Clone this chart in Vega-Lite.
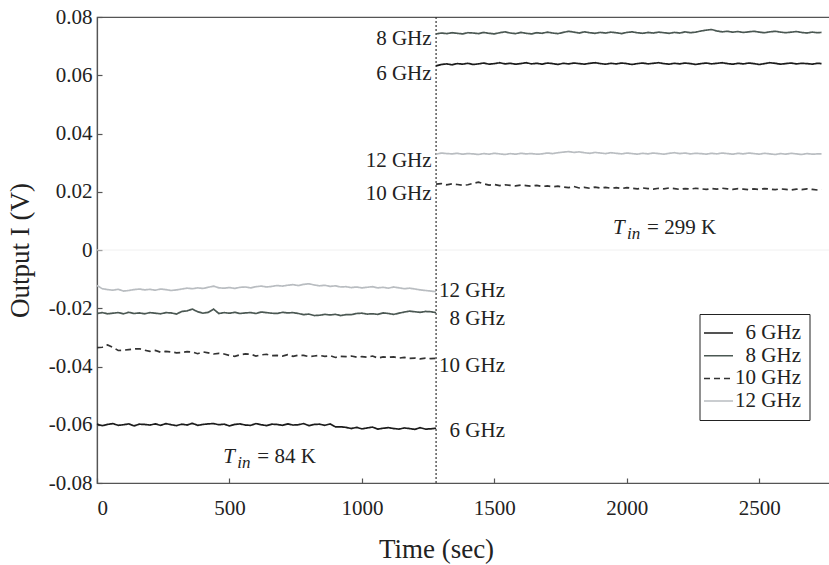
{
  "$schema": "https://vega.github.io/schema/vega-lite/v6.json",
  "width": 733,
  "height": 466,
  "autosize": {"type": "none"},
  "padding": {"left": 97, "top": 17, "right": 0, "bottom": 82},
  "background": "white",
  "config": {
    "view": {"stroke": "#555", "strokeWidth": 1.2},
    "font": "Liberation Serif",
    "axis": {
      "labelFont": "Liberation Serif", "titleFont": "Liberation Serif",
      "labelFontSize": 21, "titleFontSize": 27, "titleFontWeight": "normal",
      "labelColor": "#222", "titleColor": "#222",
      "domainColor": "#555", "tickColor": "#555", "domainWidth": 1.2, "tickWidth": 1.2,
      "grid": false, "tickSize": -5
    },
    "legend": {
      "orient": "none", "legendX": 602.5, "legendY": 297,
      "strokeColor": "#222", "padding": 8, "rowPadding": 1.7,
      "symbolType": "M-1.45,0H1.45", "symbolSize": 400, "symbolStrokeWidth": 1.5,
      "labelFont": "Liberation Serif", "labelFontSize": 21, "labelColor": "#222",
      "labelAlign": "right", "labelOffset": 71.5, "fillColor": "white"
    }
  },
  "datasets": {
    "series": [
      {"t":0,"s":"L","6 GHz":-0.0598,"8 GHz":-0.0218,"10 GHz":-0.0335,"12 GHz":-0.0122},
      {"t":20,"s":"L","6 GHz":-0.0603,"8 GHz":-0.0215,"10 GHz":-0.0334,"12 GHz":-0.0133},
      {"t":40,"s":"L","6 GHz":-0.0599,"8 GHz":-0.0219,"10 GHz":-0.0326,"12 GHz":-0.0136},
      {"t":60,"s":"L","6 GHz":-0.0596,"8 GHz":-0.0217,"10 GHz":-0.0334,"12 GHz":-0.0138},
      {"t":80,"s":"L","6 GHz":-0.0602,"8 GHz":-0.0215,"10 GHz":-0.0345,"12 GHz":-0.0135},
      {"t":100,"s":"L","6 GHz":-0.0600,"8 GHz":-0.0219,"10 GHz":-0.0344,"12 GHz":-0.0141},
      {"t":120,"s":"L","6 GHz":-0.0597,"8 GHz":-0.0214,"10 GHz":-0.0342,"12 GHz":-0.0139},
      {"t":140,"s":"L","6 GHz":-0.0604,"8 GHz":-0.0218,"10 GHz":-0.0340,"12 GHz":-0.0136},
      {"t":160,"s":"L","6 GHz":-0.0598,"8 GHz":-0.0216,"10 GHz":-0.0339,"12 GHz":-0.0134},
      {"t":180,"s":"L","6 GHz":-0.0599,"8 GHz":-0.0219,"10 GHz":-0.0344,"12 GHz":-0.0137},
      {"t":200,"s":"L","6 GHz":-0.0601,"8 GHz":-0.0215,"10 GHz":-0.0348,"12 GHz":-0.0135},
      {"t":220,"s":"L","6 GHz":-0.0597,"8 GHz":-0.0217,"10 GHz":-0.0345,"12 GHz":-0.0138},
      {"t":240,"s":"L","6 GHz":-0.0602,"8 GHz":-0.0219,"10 GHz":-0.0351,"12 GHz":-0.0134},
      {"t":260,"s":"L","6 GHz":-0.0596,"8 GHz":-0.0215,"10 GHz":-0.0348,"12 GHz":-0.0136},
      {"t":280,"s":"L","6 GHz":-0.0600,"8 GHz":-0.0216,"10 GHz":-0.0350,"12 GHz":-0.0139},
      {"t":300,"s":"L","6 GHz":-0.0603,"8 GHz":-0.0220,"10 GHz":-0.0353,"12 GHz":-0.0137},
      {"t":320,"s":"L","6 GHz":-0.0598,"8 GHz":-0.0211,"10 GHz":-0.0352,"12 GHz":-0.0134},
      {"t":340,"s":"L","6 GHz":-0.0601,"8 GHz":-0.0209,"10 GHz":-0.0349,"12 GHz":-0.0131},
      {"t":360,"s":"L","6 GHz":-0.0595,"8 GHz":-0.0203,"10 GHz":-0.0350,"12 GHz":-0.0133},
      {"t":380,"s":"L","6 GHz":-0.0602,"8 GHz":-0.0212,"10 GHz":-0.0356,"12 GHz":-0.0130},
      {"t":400,"s":"L","6 GHz":-0.0599,"8 GHz":-0.0217,"10 GHz":-0.0350,"12 GHz":-0.0132},
      {"t":420,"s":"L","6 GHz":-0.0597,"8 GHz":-0.0214,"10 GHz":-0.0353,"12 GHz":-0.0128},
      {"t":440,"s":"L","6 GHz":-0.0596,"8 GHz":-0.0203,"10 GHz":-0.0357,"12 GHz":-0.0124},
      {"t":460,"s":"L","6 GHz":-0.0600,"8 GHz":-0.0218,"10 GHz":-0.0355,"12 GHz":-0.0130},
      {"t":480,"s":"L","6 GHz":-0.0598,"8 GHz":-0.0215,"10 GHz":-0.0357,"12 GHz":-0.0131},
      {"t":500,"s":"L","6 GHz":-0.0604,"8 GHz":-0.0217,"10 GHz":-0.0362,"12 GHz":-0.0129},
      {"t":520,"s":"L","6 GHz":-0.0599,"8 GHz":-0.0214,"10 GHz":-0.0365,"12 GHz":-0.0132},
      {"t":540,"s":"L","6 GHz":-0.0597,"8 GHz":-0.0218,"10 GHz":-0.0360,"12 GHz":-0.0128},
      {"t":560,"s":"L","6 GHz":-0.0601,"8 GHz":-0.0216,"10 GHz":-0.0357,"12 GHz":-0.0127},
      {"t":580,"s":"L","6 GHz":-0.0602,"8 GHz":-0.0215,"10 GHz":-0.0358,"12 GHz":-0.0130},
      {"t":600,"s":"L","6 GHz":-0.0596,"8 GHz":-0.0218,"10 GHz":-0.0364,"12 GHz":-0.0126},
      {"t":620,"s":"L","6 GHz":-0.0600,"8 GHz":-0.0213,"10 GHz":-0.0360,"12 GHz":-0.0124},
      {"t":640,"s":"L","6 GHz":-0.0603,"8 GHz":-0.0215,"10 GHz":-0.0358,"12 GHz":-0.0127},
      {"t":660,"s":"L","6 GHz":-0.0598,"8 GHz":-0.0217,"10 GHz":-0.0363,"12 GHz":-0.0125},
      {"t":680,"s":"L","6 GHz":-0.0599,"8 GHz":-0.0218,"10 GHz":-0.0362,"12 GHz":-0.0122},
      {"t":700,"s":"L","6 GHz":-0.0602,"8 GHz":-0.0214,"10 GHz":-0.0364,"12 GHz":-0.0124},
      {"t":720,"s":"L","6 GHz":-0.0597,"8 GHz":-0.0216,"10 GHz":-0.0359,"12 GHz":-0.0121},
      {"t":740,"s":"L","6 GHz":-0.0601,"8 GHz":-0.0215,"10 GHz":-0.0365,"12 GHz":-0.0119},
      {"t":760,"s":"L","6 GHz":-0.0600,"8 GHz":-0.0218,"10 GHz":-0.0361,"12 GHz":-0.0122},
      {"t":780,"s":"L","6 GHz":-0.0596,"8 GHz":-0.0222,"10 GHz":-0.0362,"12 GHz":-0.0118},
      {"t":800,"s":"L","6 GHz":-0.0603,"8 GHz":-0.0220,"10 GHz":-0.0366,"12 GHz":-0.0116},
      {"t":820,"s":"L","6 GHz":-0.0599,"8 GHz":-0.0225,"10 GHz":-0.0364,"12 GHz":-0.0120},
      {"t":840,"s":"L","6 GHz":-0.0598,"8 GHz":-0.0224,"10 GHz":-0.0362,"12 GHz":-0.0123},
      {"t":860,"s":"L","6 GHz":-0.0602,"8 GHz":-0.0221,"10 GHz":-0.0365,"12 GHz":-0.0121},
      {"t":880,"s":"L","6 GHz":-0.0597,"8 GHz":-0.0223,"10 GHz":-0.0363,"12 GHz":-0.0125},
      {"t":900,"s":"L","6 GHz":-0.0607,"8 GHz":-0.0221,"10 GHz":-0.0369,"12 GHz":-0.0123},
      {"t":920,"s":"L","6 GHz":-0.0607,"8 GHz":-0.0225,"10 GHz":-0.0365,"12 GHz":-0.0127},
      {"t":940,"s":"L","6 GHz":-0.0609,"8 GHz":-0.0222,"10 GHz":-0.0366,"12 GHz":-0.0126},
      {"t":960,"s":"L","6 GHz":-0.0613,"8 GHz":-0.0222,"10 GHz":-0.0364,"12 GHz":-0.0129},
      {"t":980,"s":"L","6 GHz":-0.0609,"8 GHz":-0.0218,"10 GHz":-0.0368,"12 GHz":-0.0127},
      {"t":1000,"s":"L","6 GHz":-0.0614,"8 GHz":-0.0217,"10 GHz":-0.0366,"12 GHz":-0.0130},
      {"t":1020,"s":"L","6 GHz":-0.0611,"8 GHz":-0.0220,"10 GHz":-0.0368,"12 GHz":-0.0128},
      {"t":1040,"s":"L","6 GHz":-0.0608,"8 GHz":-0.0219,"10 GHz":-0.0364,"12 GHz":-0.0126},
      {"t":1060,"s":"L","6 GHz":-0.0615,"8 GHz":-0.0221,"10 GHz":-0.0371,"12 GHz":-0.0130},
      {"t":1080,"s":"L","6 GHz":-0.0612,"8 GHz":-0.0216,"10 GHz":-0.0367,"12 GHz":-0.0128},
      {"t":1100,"s":"L","6 GHz":-0.0610,"8 GHz":-0.0218,"10 GHz":-0.0368,"12 GHz":-0.0131},
      {"t":1120,"s":"L","6 GHz":-0.0613,"8 GHz":-0.0221,"10 GHz":-0.0367,"12 GHz":-0.0127},
      {"t":1140,"s":"L","6 GHz":-0.0615,"8 GHz":-0.0217,"10 GHz":-0.0371,"12 GHz":-0.0130},
      {"t":1160,"s":"L","6 GHz":-0.0611,"8 GHz":-0.0213,"10 GHz":-0.0369,"12 GHz":-0.0133},
      {"t":1180,"s":"L","6 GHz":-0.0613,"8 GHz":-0.0210,"10 GHz":-0.0372,"12 GHz":-0.0131},
      {"t":1200,"s":"L","6 GHz":-0.0616,"8 GHz":-0.0212,"10 GHz":-0.0371,"12 GHz":-0.0134},
      {"t":1220,"s":"L","6 GHz":-0.0610,"8 GHz":-0.0214,"10 GHz":-0.0374,"12 GHz":-0.0137},
      {"t":1240,"s":"L","6 GHz":-0.0615,"8 GHz":-0.0211,"10 GHz":-0.0371,"12 GHz":-0.0139},
      {"t":1260,"s":"L","6 GHz":-0.0614,"8 GHz":-0.0212,"10 GHz":-0.0373,"12 GHz":-0.0141},
      {"t":1280,"s":"L","6 GHz":-0.0612,"8 GHz":-0.0215,"10 GHz":-0.0372,"12 GHz":-0.0143},
      {"t":1280,"s":"R","6 GHz":0.0632,"8 GHz":0.0742,"10 GHz":0.0226,"12 GHz":0.0329},
      {"t":1300,"s":"R","6 GHz":0.0637,"8 GHz":0.0745,"10 GHz":0.0228,"12 GHz":0.0333},
      {"t":1320,"s":"R","6 GHz":0.0639,"8 GHz":0.0743,"10 GHz":0.0224,"12 GHz":0.0331},
      {"t":1340,"s":"R","6 GHz":0.0636,"8 GHz":0.0746,"10 GHz":0.0227,"12 GHz":0.0330},
      {"t":1360,"s":"R","6 GHz":0.0640,"8 GHz":0.0744,"10 GHz":0.0225,"12 GHz":0.0332},
      {"t":1380,"s":"R","6 GHz":0.0638,"8 GHz":0.0742,"10 GHz":0.0222,"12 GHz":0.0329},
      {"t":1400,"s":"R","6 GHz":0.0641,"8 GHz":0.0746,"10 GHz":0.0224,"12 GHz":0.0331},
      {"t":1420,"s":"R","6 GHz":0.0637,"8 GHz":0.0745,"10 GHz":0.0229,"12 GHz":0.0330},
      {"t":1440,"s":"R","6 GHz":0.0639,"8 GHz":0.0743,"10 GHz":0.0233,"12 GHz":0.0328},
      {"t":1460,"s":"R","6 GHz":0.0642,"8 GHz":0.0747,"10 GHz":0.0227,"12 GHz":0.0331},
      {"t":1480,"s":"R","6 GHz":0.0638,"8 GHz":0.0744,"10 GHz":0.0223,"12 GHz":0.0329},
      {"t":1500,"s":"R","6 GHz":0.0640,"8 GHz":0.0742,"10 GHz":0.0225,"12 GHz":0.0332},
      {"t":1520,"s":"R","6 GHz":0.0643,"8 GHz":0.0746,"10 GHz":0.0221,"12 GHz":0.0330},
      {"t":1540,"s":"R","6 GHz":0.0639,"8 GHz":0.0749,"10 GHz":0.0224,"12 GHz":0.0328},
      {"t":1560,"s":"R","6 GHz":0.0641,"8 GHz":0.0745,"10 GHz":0.0222,"12 GHz":0.0331},
      {"t":1580,"s":"R","6 GHz":0.0638,"8 GHz":0.0743,"10 GHz":0.0220,"12 GHz":0.0329},
      {"t":1600,"s":"R","6 GHz":0.0640,"8 GHz":0.0747,"10 GHz":0.0223,"12 GHz":0.0332},
      {"t":1620,"s":"R","6 GHz":0.0643,"8 GHz":0.0744,"10 GHz":0.0221,"12 GHz":0.0330},
      {"t":1640,"s":"R","6 GHz":0.0639,"8 GHz":0.0742,"10 GHz":0.0219,"12 GHz":0.0331},
      {"t":1660,"s":"R","6 GHz":0.0641,"8 GHz":0.0746,"10 GHz":0.0222,"12 GHz":0.0329},
      {"t":1680,"s":"R","6 GHz":0.0638,"8 GHz":0.0744,"10 GHz":0.0218,"12 GHz":0.0330},
      {"t":1700,"s":"R","6 GHz":0.0642,"8 GHz":0.0748,"10 GHz":0.0220,"12 GHz":0.0333},
      {"t":1720,"s":"R","6 GHz":0.0640,"8 GHz":0.0745,"10 GHz":0.0217,"12 GHz":0.0331},
      {"t":1740,"s":"R","6 GHz":0.0637,"8 GHz":0.0743,"10 GHz":0.0219,"12 GHz":0.0334},
      {"t":1760,"s":"R","6 GHz":0.0641,"8 GHz":0.0747,"10 GHz":0.0216,"12 GHz":0.0336},
      {"t":1780,"s":"R","6 GHz":0.0639,"8 GHz":0.0751,"10 GHz":0.0214,"12 GHz":0.0338},
      {"t":1800,"s":"R","6 GHz":0.0642,"8 GHz":0.0748,"10 GHz":0.0218,"12 GHz":0.0335},
      {"t":1820,"s":"R","6 GHz":0.0640,"8 GHz":0.0745,"10 GHz":0.0213,"12 GHz":0.0337},
      {"t":1840,"s":"R","6 GHz":0.0638,"8 GHz":0.0749,"10 GHz":0.0215,"12 GHz":0.0334},
      {"t":1860,"s":"R","6 GHz":0.0641,"8 GHz":0.0746,"10 GHz":0.0212,"12 GHz":0.0332},
      {"t":1880,"s":"R","6 GHz":0.0643,"8 GHz":0.0744,"10 GHz":0.0216,"12 GHz":0.0335},
      {"t":1900,"s":"R","6 GHz":0.0640,"8 GHz":0.0747,"10 GHz":0.0213,"12 GHz":0.0333},
      {"t":1920,"s":"R","6 GHz":0.0638,"8 GHz":0.0745,"10 GHz":0.0215,"12 GHz":0.0331},
      {"t":1940,"s":"R","6 GHz":0.0641,"8 GHz":0.0748,"10 GHz":0.0212,"12 GHz":0.0334},
      {"t":1960,"s":"R","6 GHz":0.0639,"8 GHz":0.0746,"10 GHz":0.0214,"12 GHz":0.0332},
      {"t":1980,"s":"R","6 GHz":0.0642,"8 GHz":0.0743,"10 GHz":0.0211,"12 GHz":0.0330},
      {"t":2000,"s":"R","6 GHz":0.0640,"8 GHz":0.0747,"10 GHz":0.0214,"12 GHz":0.0333},
      {"t":2020,"s":"R","6 GHz":0.0637,"8 GHz":0.0749,"10 GHz":0.0212,"12 GHz":0.0331},
      {"t":2040,"s":"R","6 GHz":0.0640,"8 GHz":0.0746,"10 GHz":0.0210,"12 GHz":0.0329},
      {"t":2060,"s":"R","6 GHz":0.0642,"8 GHz":0.0744,"10 GHz":0.0213,"12 GHz":0.0332},
      {"t":2080,"s":"R","6 GHz":0.0639,"8 GHz":0.0747,"10 GHz":0.0211,"12 GHz":0.0330},
      {"t":2100,"s":"R","6 GHz":0.0641,"8 GHz":0.0745,"10 GHz":0.0209,"12 GHz":0.0333},
      {"t":2120,"s":"R","6 GHz":0.0643,"8 GHz":0.0748,"10 GHz":0.0212,"12 GHz":0.0331},
      {"t":2140,"s":"R","6 GHz":0.0640,"8 GHz":0.0746,"10 GHz":0.0210,"12 GHz":0.0329},
      {"t":2160,"s":"R","6 GHz":0.0638,"8 GHz":0.0744,"10 GHz":0.0213,"12 GHz":0.0332},
      {"t":2180,"s":"R","6 GHz":0.0641,"8 GHz":0.0747,"10 GHz":0.0211,"12 GHz":0.0334},
      {"t":2200,"s":"R","6 GHz":0.0639,"8 GHz":0.0745,"10 GHz":0.0208,"12 GHz":0.0331},
      {"t":2220,"s":"R","6 GHz":0.0642,"8 GHz":0.0749,"10 GHz":0.0211,"12 GHz":0.0333},
      {"t":2240,"s":"R","6 GHz":0.0640,"8 GHz":0.0746,"10 GHz":0.0209,"12 GHz":0.0330},
      {"t":2260,"s":"R","6 GHz":0.0637,"8 GHz":0.0748,"10 GHz":0.0212,"12 GHz":0.0332},
      {"t":2280,"s":"R","6 GHz":0.0640,"8 GHz":0.0752,"10 GHz":0.0210,"12 GHz":0.0331},
      {"t":2300,"s":"R","6 GHz":0.0642,"8 GHz":0.0755,"10 GHz":0.0208,"12 GHz":0.0329},
      {"t":2320,"s":"R","6 GHz":0.0639,"8 GHz":0.0757,"10 GHz":0.0211,"12 GHz":0.0332},
      {"t":2340,"s":"R","6 GHz":0.0641,"8 GHz":0.0752,"10 GHz":0.0209,"12 GHz":0.0330},
      {"t":2360,"s":"R","6 GHz":0.0643,"8 GHz":0.0749,"10 GHz":0.0212,"12 GHz":0.0333},
      {"t":2380,"s":"R","6 GHz":0.0640,"8 GHz":0.0751,"10 GHz":0.0210,"12 GHz":0.0331},
      {"t":2400,"s":"R","6 GHz":0.0638,"8 GHz":0.0748,"10 GHz":0.0208,"12 GHz":0.0329},
      {"t":2420,"s":"R","6 GHz":0.0641,"8 GHz":0.0750,"10 GHz":0.0211,"12 GHz":0.0332},
      {"t":2440,"s":"R","6 GHz":0.0639,"8 GHz":0.0747,"10 GHz":0.0209,"12 GHz":0.0330},
      {"t":2460,"s":"R","6 GHz":0.0642,"8 GHz":0.0749,"10 GHz":0.0207,"12 GHz":0.0333},
      {"t":2480,"s":"R","6 GHz":0.0640,"8 GHz":0.0751,"10 GHz":0.0210,"12 GHz":0.0331},
      {"t":2500,"s":"R","6 GHz":0.0637,"8 GHz":0.0748,"10 GHz":0.0208,"12 GHz":0.0329},
      {"t":2520,"s":"R","6 GHz":0.0640,"8 GHz":0.0746,"10 GHz":0.0211,"12 GHz":0.0332},
      {"t":2540,"s":"R","6 GHz":0.0643,"8 GHz":0.0749,"10 GHz":0.0209,"12 GHz":0.0330},
      {"t":2560,"s":"R","6 GHz":0.0641,"8 GHz":0.0751,"10 GHz":0.0207,"12 GHz":0.0328},
      {"t":2580,"s":"R","6 GHz":0.0638,"8 GHz":0.0748,"10 GHz":0.0210,"12 GHz":0.0331},
      {"t":2600,"s":"R","6 GHz":0.0640,"8 GHz":0.0746,"10 GHz":0.0208,"12 GHz":0.0329},
      {"t":2620,"s":"R","6 GHz":0.0642,"8 GHz":0.0748,"10 GHz":0.0206,"12 GHz":0.0332},
      {"t":2640,"s":"R","6 GHz":0.0639,"8 GHz":0.0750,"10 GHz":0.0209,"12 GHz":0.0330},
      {"t":2660,"s":"R","6 GHz":0.0641,"8 GHz":0.0747,"10 GHz":0.0207,"12 GHz":0.0328},
      {"t":2680,"s":"R","6 GHz":0.0640,"8 GHz":0.0745,"10 GHz":0.0210,"12 GHz":0.0331},
      {"t":2700,"s":"R","6 GHz":0.0638,"8 GHz":0.0748,"10 GHz":0.0208,"12 GHz":0.0329},
      {"t":2720,"s":"R","6 GHz":0.0641,"8 GHz":0.0746,"10 GHz":0.0206,"12 GHz":0.0330},
      {"t":2735,"s":"R","6 GHz":0.0640,"8 GHz":0.0747,"10 GHz":0.0208,"12 GHz":0.0330}
    ],
    "labels": [
      {"x": 1263, "y": 0.0703, "label": "8 GHz"},
      {"x": 1263, "y": 0.0583, "label": "6 GHz"},
      {"x": 1263, "y": 0.0285, "label": "12 GHz"},
      {"x": 1263, "y": 0.0172, "label": "10 GHz"},
      {"x": 1540, "y": -0.0161, "label": "12 GHz"},
      {"x": 1540, "y": -0.0257, "label": "8 GHz"},
      {"x": 1540, "y": -0.0418, "label": "10 GHz"},
      {"x": 1540, "y": -0.0641, "label": "6 GHz"}
    ],
    "ann": [
      {"x": 477, "y": -0.0730, "label": "= 84 K"},
      {"x": 1948, "y": 0.0054, "label": "= 299 K"}
    ]
  },
  "layer": [
    {
      "data": {"values": [{"v": 0}]},
      "mark": {"type": "rule", "color": "#f0f0f0", "strokeWidth": 1},
      "encoding": {"y": {"field": "v", "type": "quantitative", "scale": {"domain": [-0.08, 0.08]}}}
    },
    {
      "data": {"values": [{"t": 1280}]},
      "mark": {"type": "rule", "color": "#333", "strokeWidth": 1.2, "strokeDash": [2, 2]},
      "encoding": {"x": {"field": "t", "type": "quantitative"}}
    },
    {
      "data": {"name": "series"},
      "transform": [{"fold": ["6 GHz", "8 GHz", "10 GHz", "12 GHz"], "as": ["f", "v"]}],
      "mark": {"type": "line", "strokeWidth": 1.7, "interpolate": "linear"},
      "encoding": {
        "x": {
          "field": "t", "type": "quantitative",
          "scale": {"domain": [0, 2767], "nice": false, "zero": false},
          "axis": {"title": "Time (sec)", "format": "d", "values": [0, 500, 1000, 1500, 2000, 2500], "labelPadding": 19, "titleX": 339, "titleY": 74, "titleBaseline": "alphabetic", "titleAnchor": "start", "titleAlign": "center"}
        },
        "y": {
          "field": "v", "type": "quantitative",
          "scale": {"domain": [-0.08, 0.08], "nice": false},
          "axis": {
            "title": "Output I (V)",
            "values": [-0.08, -0.06, -0.04, -0.02, 0, 0.02, 0.04, 0.06, 0.08],
            "labelExpr": "abs(datum.value) < 1e-9 ? '0' : replace(format(datum.value, '.2f'), '−', '-')",
            "labelPadding": 10, "titlePadding": 14
          }
        },
        "color": {
          "field": "f", "type": "nominal", "title": null,
          "scale": {"domain": ["6 GHz", "8 GHz", "10 GHz", "12 GHz"], "range": ["#1c1c1c", "#4b5853", "#333333", "#b9bdc1"]}
        },
        "strokeDash": {
          "field": "f", "type": "nominal", "title": null,
          "scale": {"domain": ["6 GHz", "8 GHz", "10 GHz", "12 GHz"], "range": [[1, 0], [1, 0], [6, 4], [1, 0]]}
        },
        "detail": {"field": "s", "type": "nominal"}
      }
    },
    {
      "data": {"name": "labels"},
      "mark": {"type": "text", "align": "right", "baseline": "alphabetic", "fontSize": 21, "font": "Liberation Serif", "color": "#222"},
      "encoding": {
        "x": {"field": "x", "type": "quantitative"},
        "y": {"field": "y", "type": "quantitative"},
        "text": {"field": "label"}
      }
    },
    {
      "data": {"name": "ann"},
      "mark": {"type": "text", "text": "T", "align": "left", "baseline": "alphabetic", "fontSize": 21, "fontStyle": "italic", "font": "Liberation Serif", "color": "#222"},
      "encoding": {
        "x": {"field": "x", "type": "quantitative"},
        "y": {"field": "y", "type": "quantitative"}
      }
    },
    {
      "data": {"name": "ann"},
      "mark": {"type": "text", "text": "in", "align": "left", "baseline": "alphabetic", "fontSize": 17, "fontStyle": "italic", "font": "Liberation Serif", "color": "#222", "dx": 14, "dy": 5},
      "encoding": {
        "x": {"field": "x", "type": "quantitative"},
        "y": {"field": "y", "type": "quantitative"}
      }
    },
    {
      "data": {"name": "ann"},
      "mark": {"type": "text", "align": "left", "baseline": "alphabetic", "fontSize": 21, "font": "Liberation Serif", "color": "#222", "dx": 34},
      "encoding": {
        "x": {"field": "x", "type": "quantitative"},
        "y": {"field": "y", "type": "quantitative"},
        "text": {"field": "label"}
      }
    }
  ]
}
